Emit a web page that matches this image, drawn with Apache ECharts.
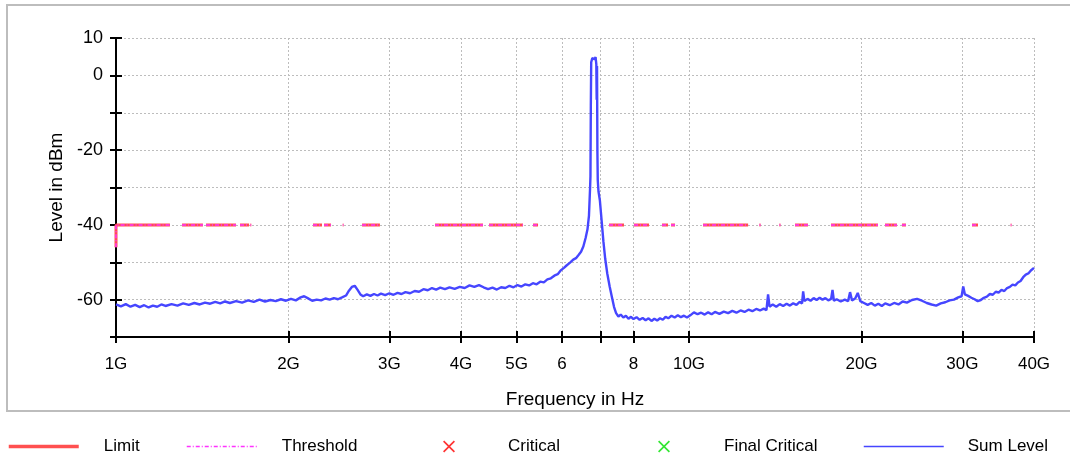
<!DOCTYPE html>
<html><head><meta charset="utf-8">
<script src="https://cdn.jsdelivr.net/npm/echarts@6/dist/echarts.min.js"></script>
<style>html,body{margin:0;padding:0;background:#fff}#c{width:1070px;height:464px}</style>
</head><body><div id="c"></div><script>
// ---- data ----
const xTickValues = [1, 2, 3, 4, 5, 6, 7, 8, 10, 20, 30, 40];          // GHz
const xTickLabels = ['1G', '2G', '3G', '4G', '5G', '6', '', '8', '10G', '20G', '30G', '40G'];
const yLabelValues = [10, 0, -20, -40, -60];
const limitLevel = -40;
const limitStartLevel = -46;
// frequency ranges (GHz) where the limit / threshold trace is drawn
const limitSegments = [[1.000,1.242],[1.304,1.418],[1.436,1.620],[1.646,1.707],[1.716,1.722],[2.207,2.288],[2.307,2.373],[2.487,2.495],[2.688,2.888],[3.257,3.266],[3.336,3.345],[3.604,4.370],[4.477,5.133],[5.343,5.452],[7.252,7.701],[8.017,8.516],[8.972,9.192],[9.303,9.454],[10.58,12.68],[13.27,13.33],[14.38,14.44],[15.31,16.13],[17.69,21.37],[21.98,23.07],[23.53,23.91],[31.18,31.94],[36.42,36.54]];
const sumFreq = [1.00,1.02,1.04,1.06,1.08,1.10,1.12,1.14,1.16,1.18,1.20,1.22,1.25,1.28,1.31,1.34,1.37,1.40,1.43,1.46,1.49,1.52,1.55,1.58,1.62,1.66,1.70,1.74,1.78,1.82,1.86,1.90,1.94,1.98,2.02,2.06,2.10,2.13,2.16,2.20,2.24,2.28,2.32,2.36,2.40,2.44,2.48,2.52,2.55,2.58,2.61,2.64,2.67,2.70,2.74,2.78,2.82,2.86,2.90,2.95,3.00,3.05,3.10,3.15,3.20,3.26,3.32,3.38,3.44,3.50,3.56,3.62,3.68,3.75,3.82,3.90,3.98,4.06,4.14,4.22,4.30,4.38,4.46,4.54,4.62,4.70,4.78,4.86,4.94,5.02,5.10,5.18,5.26,5.34,5.42,5.50,5.58,5.66,5.74,5.82,5.90,5.98,6.05,6.12,6.20,6.28,6.35,6.42,6.48,6.54,6.60,6.65,6.69,6.72,6.73,6.74,6.75,6.78,6.81,6.84,6.87,6.89,6.90,6.91,6.92,6.93,6.95,6.99,7.04,7.09,7.14,7.20,7.27,7.34,7.40,7.46,7.53,7.60,7.68,7.76,7.84,7.92,8.00,8.10,8.20,8.30,8.40,8.50,8.60,8.70,8.80,8.90,9.00,9.10,9.20,9.32,9.44,9.56,9.68,9.80,9.92,10.05,10.20,10.35,10.50,10.65,10.80,10.95,11.10,11.30,11.50,11.70,11.90,12.10,12.30,12.50,12.70,12.90,13.10,13.30,13.50,13.65,13.74,13.82,14.00,14.20,14.40,14.60,14.80,15.00,15.20,15.40,15.60,15.75,15.82,15.90,16.10,16.30,16.50,16.70,16.90,17.10,17.30,17.50,17.70,17.80,17.90,18.10,18.40,18.70,18.95,19.10,19.25,19.50,19.70,19.90,20.20,20.50,20.80,21.10,21.40,21.70,22.00,22.40,22.80,23.20,23.60,24.00,24.50,25.00,25.50,26.00,26.50,27.00,27.50,28.00,28.50,29.00,29.50,29.90,30.10,30.30,30.70,31.10,31.50,31.90,32.30,32.70,33.10,33.50,33.90,34.30,34.70,35.10,35.50,35.90,36.30,36.70,37.10,37.50,37.90,38.30,38.70,39.10,39.50,39.80,40.00];
const sumLevel = [-61.3,-61.8,-61.2,-61.9,-61.4,-62.0,-61.5,-62.1,-61.6,-61.9,-61.3,-61.7,-61.2,-61.6,-61.0,-61.4,-60.9,-61.3,-60.8,-61.1,-60.6,-61.0,-60.5,-60.9,-60.4,-60.8,-60.2,-60.6,-60.0,-60.5,-60.1,-60.4,-59.9,-60.3,-59.8,-60.2,-59.4,-59.1,-59.6,-60.3,-60.0,-60.2,-59.7,-60.0,-59.6,-59.9,-59.4,-58.9,-57.6,-56.6,-56.3,-57.4,-58.6,-59.1,-58.6,-59.0,-58.5,-58.9,-58.4,-58.8,-58.3,-58.7,-58.2,-58.5,-58.0,-58.3,-57.7,-57.9,-57.2,-57.5,-56.9,-57.3,-56.8,-57.2,-56.7,-57.1,-56.6,-56.9,-56.2,-56.6,-56.1,-56.7,-57.2,-56.8,-57.3,-56.7,-56.9,-56.3,-56.7,-56.1,-56.5,-55.9,-56.2,-55.6,-55.9,-55.2,-55.4,-54.6,-54.3,-53.6,-53.2,-52.1,-51.5,-50.8,-50.1,-49.3,-48.9,-48.0,-47.2,-45.8,-43.5,-41.2,-37.5,-30.0,-27.0,-8.0,3.5,4.6,5.0,4.3,4.9,3.0,-6.5,2.5,-20.0,-28.0,-31.0,-33.5,-39.0,-44.5,-49.0,-53.0,-56.5,-59.5,-62.0,-63.6,-64.5,-64.0,-64.8,-64.3,-65.1,-64.6,-65.2,-64.7,-65.4,-64.9,-65.5,-65.0,-65.7,-65.1,-65.6,-65.0,-65.4,-64.6,-65.0,-64.3,-64.8,-64.2,-64.7,-64.3,-64.8,-64.2,-63.4,-63.9,-63.5,-64.0,-63.4,-63.9,-63.3,-63.8,-63.2,-63.6,-63.0,-63.5,-62.9,-63.3,-62.7,-63.1,-62.5,-62.9,-62.4,-62.8,-58.6,-61.9,-61.3,-61.9,-61.2,-61.7,-61.1,-61.6,-61.0,-61.4,-60.6,-61.0,-57.8,-60.4,-59.8,-60.3,-59.6,-60.1,-59.5,-60.0,-59.6,-60.2,-59.8,-57.4,-60.3,-59.9,-60.5,-60.0,-60.4,-58.0,-60.2,-59.7,-58.2,-60.4,-60.9,-61.4,-60.9,-61.6,-61.1,-61.7,-61.0,-61.5,-60.9,-61.3,-60.5,-60.8,-60.1,-59.8,-60.3,-60.9,-61.3,-61.6,-61.0,-60.7,-60.2,-60.0,-59.4,-59.1,-56.5,-58.6,-59.0,-59.5,-59.9,-60.4,-60.1,-59.5,-59.2,-58.5,-58.7,-57.9,-58.1,-57.4,-57.7,-56.9,-56.6,-56.0,-56.2,-55.4,-55.0,-54.0,-53.3,-53.0,-52.2,-52.4,-51.5];

// ---- build series data (x in log10 of GHz, drawn on a value axis) ----
const lg = v => Math.log10(v);
const limitData = [];
limitSegments.forEach((s, i) => {
  if (i === 0) limitData.push([lg(s[0]), limitStartLevel]);
  limitData.push([lg(s[0]), limitLevel], [lg(s[1]), limitLevel], [lg(s[1]), '-']);
});
const sumData = sumFreq.map((f, i) => [lg(f), sumLevel[i]]);
const xLabelFor = v => {
  const i = xTickValues.findIndex(t => Math.abs(lg(t) - v) < 1e-6);
  return i < 0 ? '' : xTickLabels[i];
};

const FONT = '"Liberation Sans", Arial, sans-serif';
const crossPath = 'path://M0,1L1,0L5,4L9,0L10,1L6,5L10,9L9,10L5,6L1,10L0,9L4,5Z';
const chart = echarts.init(document.getElementById('c'), null, {renderer: 'canvas'});
const xMin = 0, xMax = lg(40);
const axisCommon = {
  min: xMin, max: xMax, type: 'value',
  axisLine: {onZero: false, lineStyle: {color: '#000', width: 2}},
  axisTick: {length: 6, lineStyle: {color: '#000', width: 2}, customValues: xTickValues.map(lg)}
};
const legendBase = {top: 438, padding: 0, itemHeight: 14, itemStyle: {opacity: 0},
  textStyle: {fontFamily: FONT, fontSize: 17, color: '#000'}, selectedMode: false};

chart.setOption({
  animation: false,
  backgroundColor: '#fff',
  grid: {left: 116, right: 36, top: 38, bottom: 127, containLabel: false},
  xAxis: [
    Object.assign({}, axisCommon, {
      position: 'bottom',
      name: 'Frequency in Hz', nameLocation: 'middle', nameGap: 53,
      nameTextStyle: {fontFamily: FONT, fontSize: 19, color: '#000'},
      axisLabel: {customValues: xTickValues.map(lg), formatter: xLabelFor, margin: 19,
        fontFamily: FONT, fontSize: 17, color: '#000'},
      splitLine: {show: true, lineStyle: {color: '#bdbdbd', width: 1, type: [2, 2]}}
    }),
    Object.assign({}, axisCommon, {
      position: 'bottom', axisLabel: {show: false}, splitLine: {show: false},
      axisTick: Object.assign({}, axisCommon.axisTick, {inside: true})
    })
  ],
  yAxis: [
    {
      type: 'value', min: -70, max: 10, interval: 10, position: 'left',
      name: 'Level in dBm', nameLocation: 'middle', nameGap: 42, nameRotate: 90,
      nameTextStyle: {fontFamily: FONT, fontSize: 19, color: '#000'},
      axisLine: {show: true, onZero: false, lineStyle: {color: '#000', width: 2}},
      axisTick: {show: true, length: 6, lineStyle: {color: '#000', width: 2}},
      axisLabel: {margin: 13, fontFamily: FONT, fontSize: 18, color: '#000',
        formatter: v => yLabelValues.indexOf(v) >= 0 ? String(v) : ''},
      splitLine: {show: true, lineStyle: {color: '#bdbdbd', width: 1, type: [2, 2]}}
    },
    {
      type: 'value', min: -70, max: 10, interval: 10, position: 'left',
      axisLine: {show: true, onZero: false, lineStyle: {color: '#000', width: 2}},
      axisTick: {show: true, inside: true, length: 6, lineStyle: {color: '#000', width: 2}},
      axisLabel: {show: false}, splitLine: {show: false}
    }
  ],
  legend: [
    Object.assign({}, legendBase, {data: ['Limit'], left: 7, itemWidth: 70,
      lineStyle: {width: 3.5},
      textStyle: Object.assign({}, legendBase.textStyle, {padding: [0, 0, 0, 20]})}),
    Object.assign({}, legendBase, {data: ['Threshold'], left: 186, itemWidth: 71,
      lineStyle: {width: 1.5},
      textStyle: Object.assign({}, legendBase.textStyle, {padding: [0, 0, 0, 19]})}),
    Object.assign({}, legendBase, {data: ['Critical'], left: 443, itemWidth: 12, itemHeight: 12,
      itemStyle: {},
      textStyle: Object.assign({}, legendBase.textStyle, {padding: [0, 0, 0, 48]})}),
    Object.assign({}, legendBase, {data: ['Final Critical'], left: 658, itemWidth: 12, itemHeight: 12,
      itemStyle: {},
      textStyle: Object.assign({}, legendBase.textStyle, {padding: [0, 0, 0, 49]})}),
    Object.assign({}, legendBase, {data: ['Sum Level'], left: 863, itemWidth: 80,
      lineStyle: {width: 1.5},
      textStyle: Object.assign({}, legendBase.textStyle, {padding: [0, 0, 0, 19]})})
  ],
  graphic: [{
    type: 'rect', z: 100, silent: true,
    shape: {x: 7, y: 5, width: 1080, height: 406},
    style: {fill: 'none', stroke: '#bdbdbd', lineWidth: 2}
  }],
  series: [
    {name: 'Limit', type: 'line', symbol: 'none', data: limitData, connectNulls: false,
      color: '#ff5050', lineStyle: {color: '#ff5050', width: 3}, z: 3},
    {name: 'Threshold', type: 'line', symbol: 'none', data: limitData, connectNulls: false,
      color: '#ff33ff', lineStyle: {color: '#ff33ff', width: 1.5, type: [4, 2, 1, 2]}, z: 4},
    {name: 'Critical', type: 'scatter', data: [], symbol: crossPath, symbolSize: 12,
      itemStyle: {color: '#ff0000'}},
    {name: 'Final Critical', type: 'scatter', data: [], symbol: crossPath, symbolSize: 12,
      itemStyle: {color: '#00e000'}},
    {name: 'Sum Level', type: 'line', symbol: 'none', data: sumData,
      color: '#4646ff', lineStyle: {color: '#4646ff', width: 2.4}, z: 5}
  ]
});
</script></body></html>
